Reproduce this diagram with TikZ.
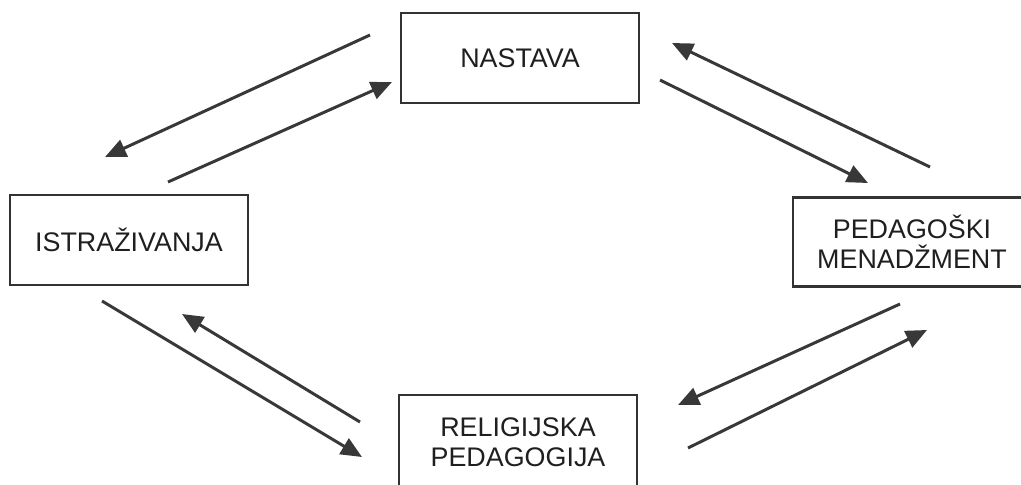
\documentclass[tikz,border=0pt]{standalone}
\usepackage{fontspec}
\setmainfont{Liberation Sans}
\usepackage{tikz}
\usetikzlibrary{arrows.meta}

\begin{document}
\begin{tikzpicture}[x=0.02cm,y=-0.02cm,
    box/.style={draw=black!80,line width=1.2pt,text=black!88,align=center,
      font=\fontsize{15.3}{17}\selectfont,minimum width=4.76cm,minimum height=1.8cm},
    link/.style={draw=black!78,line width=1.7pt,-{Triangle[length=4.2mm,width=3.6mm]}}]
    \useasboundingbox (0,0) rectangle (1021,484);
    \begin{scope}
    \clip (0,0) rectangle (1021,484);
    \node[box] (nastava) at (520,58) {NASTAVA};
    \node[box] (istraz) at (129,240) {ISTRAŽIVANJA};
    \node[box,minimum height=1.78cm] (menadz) at (912,242) {PEDAGOŠKI\\MENADŽMENT};
    \node[box,minimum height=1.88cm] (relig) at (518,442) {RELIGIJSKA\\PEDAGOGIJA};
    \end{scope}

    % nastava <-> istrazivanja
    \coordinate (a1) at (370,35);  \coordinate (a2) at (105,157);
    \coordinate (b1) at (168,182); \coordinate (b2) at (392,82);
    % nastava <-> menadzment
    \coordinate (c1) at (930,167); \coordinate (c2) at (672,43);
    \coordinate (d1) at (660,80);  \coordinate (d2) at (868,183);
    % istrazivanja <-> pedagogija
    \coordinate (e1) at (102,301); \coordinate (e2) at (362,457);
    \coordinate (f1) at (360,422); \coordinate (f2) at (182,314);
    % menadzment <-> pedagogija
    \coordinate (g1) at (900,304); \coordinate (g2) at (678,405);
    \coordinate (h1) at (688,448); \coordinate (h2) at (927,330);

    \draw[link] (a1) -- (a2);
    \draw[link] (b1) -- (b2);
    \draw[link] (c1) -- (c2);
    \draw[link] (d1) -- (d2);
    \draw[link] (e1) -- (e2);
    \draw[link] (f1) -- (f2);
    \draw[link] (g1) -- (g2);
    \draw[link] (h1) -- (h2);
  \end{tikzpicture}
\end{document}
